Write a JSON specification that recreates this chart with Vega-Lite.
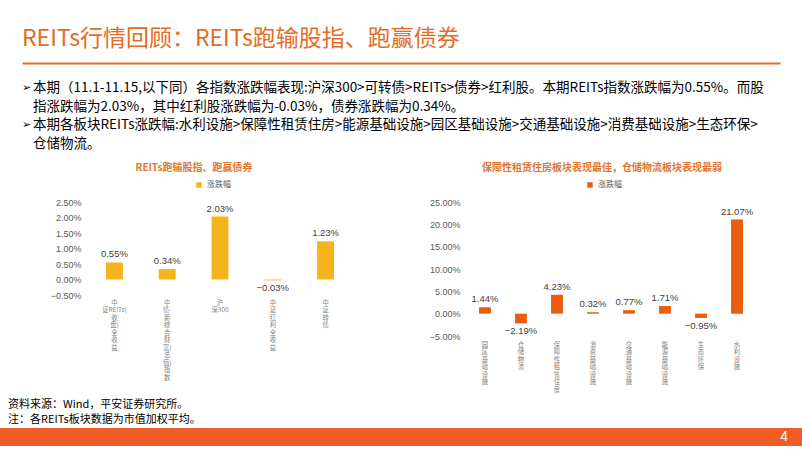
{
  "$schema": "https://vega.github.io/schema/vega-lite/v6.json",
  "background": "white",
  "padding": {"left": 0, "right": 0, "top": 28, "bottom": 0},
  "spacing": 0,
  "config": {
    "font": "Liberation Sans",
    "view": {"stroke": null},
    "axis": {"grid": false, "ticks": false, "domain": false, "labelColor": "#595959", "labelFont": "Liberation Sans", "labelFontSize": 9, "title": null, "labelOverlap": false, "labelSeparation": 0},
    "legend": {"title": null, "symbolType": "square", "symbolSize": 30, "labelFont": "Noto Sans CJK SC", "labelFontSize": 8, "labelColor": "#595959", "padding": 0}
  },
  "vconcat": [
    {
      "hconcat": [
        {"width": 22, "height": 1, "data": {"values": []}, "mark": "text", "encoding": {}},
        {
          "width": 758,
          "height": 100,
          "title": {"text": "REITs行情回顾：REITs跑输股指、跑赢债券", "anchor": "start", "fontSize": 23, "font": "Noto Sans CJK SC", "fontWeight": "normal", "color": "#E46C24", "offset": 12},
          "data": {"values": [
            {"row": 1, "line": 1, "text": "本期（11.1-11.15,以下同）各指数涨跌幅表现:沪深300>可转债>REITs>债券>红利股。本期REITs指数涨跌幅为0.55%。而股"},
            {"row": 2, "line": 2, "text": "指涨跌幅为2.03%，其中红利股涨跌幅为-0.03%，债券涨跌幅为0.34%。"},
            {"row": 3, "line": 1, "text": "本期各板块REITs涨跌幅:水利设施>保障性租赁住房>能源基础设施>园区基础设施>交通基础设施>消费基础设施>生态环保>"},
            {"row": 4, "line": 2, "text": "仓储物流。"}
          ]},
          "encoding": {
            "y": {"field": "row", "type": "quantitative", "scale": {"domain": [-0.34, 5.01], "reverse": true, "nice": false, "zero": false}, "axis": null},
            "x": {"datum": 0, "type": "quantitative", "scale": {"domain": [0, 1]}, "axis": {"orient": "top", "domain": true, "domainColor": "#E46C24", "domainWidth": 2, "labels": false, "ticks": false, "grid": false}}
          },
          "layer": [
            {"mark": {"type": "text", "align": "left", "baseline": "middle", "font": "Noto Sans CJK SC", "fontSize": 13.5, "dx": 11, "color": "#000000"}, "encoding": {"text": {"field": "text"}}},
            {"transform": [{"filter": "datum.line == 1"}], "mark": {"type": "text", "text": "➢", "align": "left", "baseline": "middle", "font": "DejaVu Sans", "fontSize": 11, "dx": 0, "color": "#000000"}}
          ]
        }
      ],
      "spacing": 0
    },
    {
      "hconcat": [
        {"width": 43, "height": 1, "data": {"values": []}, "mark": "text", "encoding": {}},
        {
          "width": 264,
          "height": 93,
          "title": {"text": "REITs跑输股指、跑赢债券", "fontSize": 10, "font": "Noto Sans CJK SC", "fontWeight": "bold", "color": "#E0762F", "offset": 8, "dx": -26},
          "data": {"values": [
            {"name": "中证REITs(收盘)全收益", "change": 0.0055},
            {"name": "中债-新综合财富(总值)指数", "change": 0.0034},
            {"name": "沪深300", "change": 0.0203},
            {"name": "中证红利全收益", "change": -0.0003},
            {"name": "中证转债", "change": 0.0123}
          ]},
          "encoding": {
            "x": {"field": "name", "type": "nominal", "sort": null, "scale": {"paddingInner": 0.68, "paddingOuter": 0.34},
              "axis": {"labelAngle": 0, "labelBaseline": "top", "labelAlign": "center", "labelFont": "Noto Sans CJK SC", "labelFontSize": 6.3, "labelLineHeight": 7.5, "labelPadding": 4, "labelColor": "#7F7F7F",
                "labelExpr": "slice(split(replace(datum.label, regexp('([\\u4e00-\\u9fa5][^\\u4e00-\\u9fa5]*|[^\\u4e00-\\u9fa5]+)', 'g'), '$1|'), '|'), 0, -1)"}},
            "y": {"field": "change", "type": "quantitative", "scale": {"domain": [-0.005, 0.025], "nice": false},
              "axis": {"format": ".2%", "values": [-0.005, 0, 0.005, 0.01, 0.015, 0.02, 0.025], "labelOverlap": false, "minExtent": 45, "maxExtent": 45, "labelPadding": 7}}
          },
          "layer": [
            {"mark": {"type": "bar"},
             "encoding": {"color": {"datum": "涨跌幅", "type": "nominal", "scale": {"range": ["#F6B31B"]}, "legend": {"orient": "none", "legendX": 107, "legendY": -21}}}},
            {"mark": {"type": "rule", "color": "#D9D9D9", "strokeWidth": 1}, "encoding": {"y": {"datum": 0, "type": "quantitative"}}},
            {"transform": [{"filter": "datum.change >= 0"}], "mark": {"type": "text", "baseline": "bottom", "dy": -3, "fontSize": 9.5, "color": "#404040"},
             "encoding": {"text": {"field": "change", "type": "quantitative", "format": ".2%"}}},
            {"transform": [{"filter": "datum.change < 0"}], "mark": {"type": "text", "baseline": "top", "dy": 3, "fontSize": 9.5, "color": "#404040"},
             "encoding": {"text": {"field": "change", "type": "quantitative", "format": ".2%"}}}
          ]
        },
        {
          "width": 288,
          "height": 134,
          "title": {"text": "保障性租赁住房板块表现最佳，仓储物流板块表现最弱", "fontSize": 10, "font": "Noto Sans CJK SC", "fontWeight": "bold", "color": "#E0762F", "offset": 8, "dx": -9},
          "data": {"values": [
            {"name": "园区基础设施", "change": 0.0144},
            {"name": "仓储物流", "change": -0.0219},
            {"name": "保障性租赁住房", "change": 0.0423},
            {"name": "消费基础设施", "change": 0.0032},
            {"name": "交通基础设施", "change": 0.0077},
            {"name": "能源基础设施", "change": 0.0171},
            {"name": "生态环保", "change": -0.0095},
            {"name": "水利设施", "change": 0.2107}
          ]},
          "encoding": {
            "x": {"field": "name", "type": "nominal", "sort": null, "scale": {"paddingInner": 0.67, "paddingOuter": 0.335},
              "axis": {"labelAngle": 0, "labelBaseline": "top", "labelAlign": "center", "labelFont": "Noto Sans CJK SC", "labelFontSize": 6.3, "labelLineHeight": 7.5, "labelPadding": 5, "labelColor": "#7F7F7F", "minExtent": 63,
                "labelExpr": "slice(split(replace(datum.label, regexp('([\\u4e00-\\u9fa5][^\\u4e00-\\u9fa5]*|[^\\u4e00-\\u9fa5]+)', 'g'), '$1|'), '|'), 0, -1)"}},
            "y": {"field": "change", "type": "quantitative", "scale": {"domain": [-0.05, 0.25], "nice": false},
              "axis": {"format": ".2%", "values": [-0.05, 0, 0.05, 0.1, 0.15, 0.2, 0.25], "labelOverlap": false, "minExtent": 115, "maxExtent": 115, "labelPadding": 7}}
          },
          "layer": [
            {"mark": {"type": "bar"},
             "encoding": {"color": {"datum": "涨跌幅", "type": "nominal", "scale": {"range": ["#E85D0E"]}, "legend": {"orient": "none", "legendX": 119, "legendY": -21}}}},
            {"mark": {"type": "rule", "color": "#D9D9D9", "strokeWidth": 1}, "encoding": {"y": {"datum": 0, "type": "quantitative"}}},
            {"transform": [{"filter": "datum.change >= 0"}], "mark": {"type": "text", "baseline": "bottom", "dy": -3, "fontSize": 9.5, "color": "#404040"},
             "encoding": {"text": {"field": "change", "type": "quantitative", "format": ".2%"}}},
            {"transform": [{"filter": "datum.change < 0"}], "mark": {"type": "text", "baseline": "top", "dy": 3, "fontSize": 9.5, "color": "#404040"},
             "encoding": {"text": {"field": "change", "type": "quantitative", "format": ".2%"}}}
          ]
        }
      ],
      "spacing": 0,
      "resolve": {"scale": {"color": "independent"}, "legend": {"color": "independent"}}
    },
    {
      "width": 802,
      "height": 18,
      "view": {"fill": "#EF5B24", "stroke": null},
      "title": {"text": ["资料来源：Wind，平安证券研究所。", "注：各REITs板块数据为市值加权平均。"], "anchor": "start", "orient": "top", "fontSize": 11, "lineHeight": 15, "font": "Noto Sans CJK SC", "fontWeight": "normal", "color": "#000000", "dx": 8, "offset": 3},
      "data": {"values": [{"page": "4"}]},
      "mark": {"type": "text", "align": "right", "baseline": "middle", "color": "white", "fontSize": 14, "dx": -14},
      "encoding": {
        "text": {"field": "page"},
        "x": {"datum": 1, "type": "quantitative", "scale": {"domain": [0, 1]}, "axis": null}
      }
    }
  ]
}
